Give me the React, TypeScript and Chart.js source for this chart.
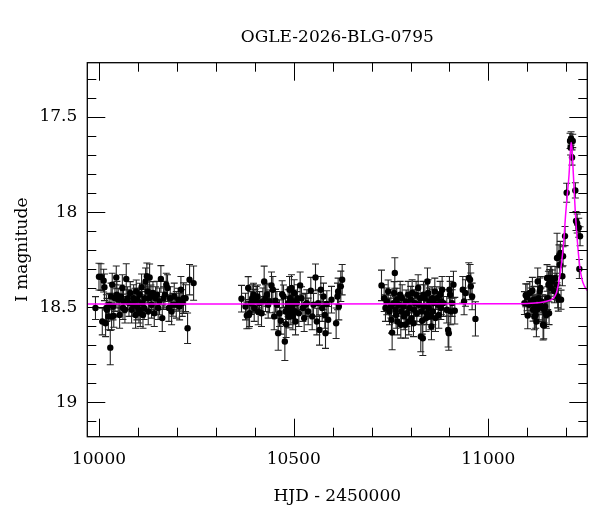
import { useEffect, useRef } from 'react'
import { Chart, registerables } from 'chart.js'

Chart.register(...registerables)

const TITLE = 'OGLE-2026-BLG-0795'
const X_LABEL = 'HJD - 2450000'
const Y_LABEL = 'I magnitude'
const X_TICKS = [10000, 10500, 11000]
const X_MINOR = [10000, 10100, 10200, 10300, 10400, 10500, 10600, 10700, 10800, 10900, 11000, 11100, 11200]
const Y_TICKS = [17.5, 18, 18.5, 19]
const Y_MINOR = [17.3, 17.4, 17.5, 17.6, 17.7, 17.8, 17.9, 18, 18.1, 18.2, 18.3, 18.4, 18.5, 18.6, 18.7, 18.8, 18.9, 19, 19.1]

// [HJD - 2450000, I mag, error]
const SEASON_1 = [
  [9991, 18.504, 0.06], [10000, 18.339, 0.07], [10005, 18.341, 0.07], [10008.5, 18.575, 0.07],
  [10012, 18.36, 0.06], [10014, 18.395, 0.07], [10017, 18.584, 0.07], [10019, 18.504, 0.07],
  [10020.5, 18.513, 0.06], [10024, 18.548, 0.07], [10026, 18.487, 0.06], [10029, 18.712, 0.09],
  [10031, 18.443, 0.07], [10032.4, 18.548, 0.07], [10034, 18.381, 0.06], [10036, 18.496, 0.07],
  [10038, 18.545, 0.06], [10041, 18.452, 0.07], [10044.4, 18.343, 0.06], [10046, 18.434, 0.07],
  [10049.5, 18.46, 0.06], [10053, 18.54, 0.07], [10056.4, 18.443, 0.06], [10060, 18.399, 0.07],
  [10061.5, 18.504, 0.06], [10063, 18.469, 0.06], [10066.6, 18.513, 0.07], [10070, 18.351, 0.08],
  [10073.5, 18.452, 0.06], [10077, 18.478, 0.07], [10080.3, 18.425, 0.06], [10083.8, 18.513, 0.07],
  [10087, 18.487, 0.06], [10089, 18.452, 0.07], [10092, 18.46, 0.06], [10094, 18.54, 0.07],
  [10095.7, 18.417, 0.06], [10097.5, 18.496, 0.07], [10099, 18.46, 0.06], [10102.6, 18.513, 0.07],
  [10104.4, 18.434, 0.06], [10106, 18.531, 0.07], [10109.4, 18.395, 0.07], [10111, 18.478, 0.06],
  [10113, 18.54, 0.07], [10116, 18.504, 0.06], [10118, 18.452, 0.07], [10119.7, 18.364, 0.07],
  [10123, 18.337, 0.07], [10125, 18.417, 0.06], [10126.5, 18.522, 0.07], [10128, 18.452, 0.06],
  [10130, 18.343, 0.07], [10133.4, 18.443, 0.06], [10135, 18.487, 0.07], [10138.6, 18.425, 0.06],
  [10142, 18.531, 0.07], [10145.4, 18.452, 0.06], [10148.8, 18.434, 0.07], [10152, 18.504, 0.06],
  [10155.6, 18.469, 0.07], [10159, 18.351, 0.07], [10162.5, 18.557, 0.07], [10166, 18.452, 0.06],
  [10169.3, 18.434, 0.07], [10172.8, 18.381, 0.06], [10176, 18.399, 0.07], [10179.6, 18.504, 0.07],
  [10183, 18.452, 0.06], [10186.5, 18.522, 0.07], [10190, 18.487, 0.06], [10193.3, 18.443, 0.07],
  [10198.4, 18.487, 0.07], [10203.5, 18.46, 0.06], [10207, 18.496, 0.07], [10210.4, 18.408, 0.07],
  [10213.8, 18.478, 0.07], [10217, 18.452, 0.08], [10222.4, 18.452, 0.07], [10227.5, 18.61, 0.08],
  [10232.6, 18.355, 0.08], [10243, 18.373, 0.09],
]

const SEASON_2 = [
  [10366, 18.455, 0.07], [10376.3, 18.496, 0.07], [10379.7, 18.543, 0.07], [10383.2, 18.399, 0.06],
  [10385, 18.54, 0.07], [10386.6, 18.531, 0.07], [10390, 18.478, 0.06], [10393.4, 18.452, 0.07],
  [10396.9, 18.434, 0.06], [10398.6, 18.504, 0.07], [10400.3, 18.466, 0.06], [10403.7, 18.46, 0.07],
  [10407.1, 18.443, 0.06], [10408.8, 18.522, 0.07], [10412.3, 18.478, 0.06], [10417.4, 18.531, 0.07],
  [10420.8, 18.469, 0.07], [10424.2, 18.364, 0.08], [10427.7, 18.452, 0.07], [10431.1, 18.434, 0.06],
  [10434.5, 18.487, 0.07], [10438, 18.469, 0.06], [10443, 18.385, 0.07], [10446.5, 18.408, 0.07],
  [10449.9, 18.548, 0.07], [10453.3, 18.466, 0.06], [10456.8, 18.487, 0.07], [10460.2, 18.636, 0.09],
  [10463.6, 18.531, 0.07], [10467, 18.571, 0.07], [10470.4, 18.431, 0.07], [10473.9, 18.443, 0.06],
  [10477.3, 18.68, 0.1], [10479, 18.522, 0.07], [10480.7, 18.589, 0.07], [10484.1, 18.504, 0.06],
  [10485.8, 18.478, 0.07], [10487.6, 18.548, 0.06], [10489.3, 18.408, 0.07], [10491, 18.452, 0.06],
  [10492.7, 18.522, 0.07], [10494.4, 18.399, 0.07], [10496.1, 18.496, 0.06], [10497.8, 18.548, 0.07],
  [10499.5, 18.469, 0.06], [10501.2, 18.425, 0.07], [10503, 18.522, 0.06], [10504.7, 18.575, 0.07],
  [10508.1, 18.478, 0.06], [10509.8, 18.452, 0.07], [10513.2, 18.531, 0.07], [10516.6, 18.385, 0.07],
  [10520.1, 18.452, 0.06], [10523.5, 18.504, 0.07], [10526.9, 18.557, 0.07], [10530.3, 18.487, 0.06],
  [10533.8, 18.478, 0.07], [10537.2, 18.522, 0.07], [10544, 18.413, 0.07], [10547.5, 18.548, 0.07],
  [10550.9, 18.487, 0.06], [10556, 18.343, 0.07], [10559.4, 18.575, 0.07], [10562.8, 18.478, 0.07],
  [10566.3, 18.619, 0.08], [10569.7, 18.408, 0.07], [10573.1, 18.504, 0.07], [10576.5, 18.443, 0.07],
  [10580, 18.54, 0.07], [10581.7, 18.636, 0.08], [10585.1, 18.483, 0.07], [10588.5, 18.566, 0.07],
  [10597.1, 18.46, 0.07], [10609, 18.584, 0.08], [10612.5, 18.443, 0.07], [10614.2, 18.417, 0.07],
  [10615.9, 18.496, 0.07], [10621, 18.39, 0.08], [10624.5, 18.355, 0.08],
]

const SEASON_3 = [
  [10725.5, 18.385, 0.08], [10732.3, 18.452, 0.07], [10735.7, 18.504, 0.07], [10739.1, 18.469, 0.07],
  [10742.6, 18.417, 0.06], [10746, 18.522, 0.07], [10749.4, 18.496, 0.06], [10751.1, 18.566, 0.07],
  [10752.8, 18.633, 0.09], [10756.3, 18.478, 0.07], [10758, 18.425, 0.06], [10759.7, 18.32, 0.08],
  [10761.4, 18.513, 0.07], [10763.1, 18.54, 0.07], [10764.8, 18.46, 0.06], [10766.5, 18.575, 0.07],
  [10770, 18.487, 0.06], [10773.4, 18.434, 0.07], [10775.1, 18.592, 0.07], [10776.8, 18.522, 0.06],
  [10778.5, 18.452, 0.07], [10781.9, 18.496, 0.06], [10783.6, 18.548, 0.07], [10787.1, 18.592, 0.07],
  [10788.8, 18.469, 0.06], [10790.5, 18.531, 0.07], [10793.9, 18.434, 0.07], [10795.6, 18.575, 0.07],
  [10797.3, 18.504, 0.06], [10800.7, 18.46, 0.07], [10802.5, 18.557, 0.07], [10804.2, 18.425, 0.07],
  [10807.6, 18.584, 0.07], [10809.3, 18.513, 0.06], [10811, 18.478, 0.07], [10814.4, 18.434, 0.07],
  [10816.2, 18.531, 0.06], [10819.6, 18.399, 0.07], [10821.3, 18.487, 0.06], [10824.7, 18.452, 0.07],
  [10826.4, 18.654, 0.08], [10828.1, 18.522, 0.07], [10829.9, 18.571, 0.07], [10831.6, 18.663, 0.09],
  [10833.3, 18.434, 0.07], [10835, 18.496, 0.06], [10836.7, 18.452, 0.07], [10840.1, 18.557, 0.07],
  [10841.8, 18.531, 0.06], [10843.5, 18.364, 0.07], [10845.2, 18.425, 0.07], [10847, 18.504, 0.06],
  [10848.7, 18.469, 0.07], [10852.1, 18.548, 0.07], [10853.8, 18.601, 0.07], [10855.5, 18.452, 0.06],
  [10857.2, 18.522, 0.07], [10858.9, 18.478, 0.07], [10862.4, 18.417, 0.07], [10864.1, 18.557, 0.07],
  [10867.5, 18.452, 0.06], [10870.9, 18.487, 0.07], [10872.6, 18.54, 0.07], [10876, 18.434, 0.07],
  [10877.8, 18.504, 0.06], [10879.5, 18.469, 0.07], [10881.2, 18.408, 0.07], [10884.6, 18.478, 0.07],
  [10893.2, 18.513, 0.07], [10896.6, 18.619, 0.09], [10898.3, 18.636, 0.09], [10900, 18.408, 0.07],
  [10901.7, 18.434, 0.07], [10903.4, 18.522, 0.07], [10906.8, 18.478, 0.07], [10910.3, 18.381, 0.07],
  [10913.7, 18.518, 0.07], [10934.2, 18.408, 0.07], [10937.6, 18.469, 0.07], [10941.1, 18.425, 0.07],
  [10949.6, 18.346, 0.08], [10953, 18.355, 0.08], [10954.8, 18.39, 0.07], [10958.2, 18.443, 0.07],
  [10966.7, 18.561, 0.09],
]

const SEASON_4 = [
  [11092.5, 18.478, 0.06], [11095.9, 18.437, 0.06], [11099.3, 18.448, 0.07], [11101, 18.543, 0.07],
  [11104.4, 18.487, 0.06], [11106.1, 18.425, 0.06], [11109.6, 18.469, 0.07], [11113, 18.413, 0.07],
  [11114.7, 18.513, 0.06], [11116.4, 18.46, 0.07], [11118.1, 18.548, 0.07], [11119.8, 18.496, 0.06],
  [11121.5, 18.54, 0.07], [11123.3, 18.575, 0.08], [11125, 18.513, 0.07], [11126.7, 18.364, 0.07],
  [11128.4, 18.452, 0.06], [11130.1, 18.496, 0.07], [11131.8, 18.416, 0.07], [11133.5, 18.399, 0.06],
  [11135.2, 18.469, 0.07], [11138.7, 18.504, 0.07], [11140.4, 18.592, 0.08], [11142.1, 18.596, 0.07],
  [11143.8, 18.513, 0.07], [11145.5, 18.496, 0.06], [11147.2, 18.531, 0.07], [11148.9, 18.54, 0.07],
  [11150.6, 18.346, 0.07], [11152.3, 18.452, 0.06], [11154.1, 18.381, 0.07], [11155.8, 18.531, 0.06],
  [11157.5, 18.372, 0.07], [11159.2, 18.346, 0.06], [11160.9, 18.399, 0.06], [11162.6, 18.355, 0.07],
  [11164.3, 18.364, 0.06], [11169.5, 18.416, 0.06], [11171.2, 18.346, 0.06], [11174.6, 18.381, 0.06],
  [11176.3, 18.241, 0.13], [11178, 18.443, 0.06], [11179.7, 18.46, 0.06], [11181.4, 18.232, 0.06],
  [11183.1, 18.276, 0.06], [11184.9, 18.214, 0.06], [11186.6, 18.46, 0.05], [11190, 18.337, 0.05],
  [11191.7, 18.232, 0.05], [11196.8, 18.126, 0.05], [11201, 17.898, 0.05], [11209.7, 17.626, 0.04],
  [11211, 17.66, 0.04], [11212.3, 17.613, 0.035], [11214.8, 17.713, 0.04], [11216.6, 17.626, 0.035],
  [11223.3, 17.886, 0.04], [11225, 18.047, 0.05], [11228, 18.06, 0.05], [11232, 18.082, 0.05],
  [11235.4, 18.127, 0.05], [11233.6, 18.299, 0.05],
]

// model light curve: [HJD - 2450000, I mag]
const MODEL = [
  [9970, 18.483], [11080, 18.482], [11120, 18.478], [11145, 18.471], [11160, 18.462],
  [11167, 18.452], [11175, 18.422], [11182, 18.355], [11187, 18.28], [11192.5, 18.179],
  [11198.7, 18.003], [11203, 17.9], [11207.2, 17.801], [11210, 17.7], [11212.3, 17.634],
  [11214.5, 17.66], [11218.2, 17.801], [11223.3, 18.003], [11229.5, 18.179], [11235, 18.29],
  [11240.5, 18.355], [11247, 18.39], [11254, 18.412],
]

const FONT = '"DejaVu Serif", serif'
const FONT_SIZE = 17

const toPoints = (rows: number[][]) => rows.map(([x, y, err]) => ({ x, y, err }))

// error bars under the dots, box with inward ticks on top of everything
const framePlugin = {
  id: 'frame',
  beforeDatasetsDraw(chart: any) {
    const { ctx, chartArea, scales } = chart
    ctx.save()
    ctx.beginPath()
    ctx.rect(chartArea.left, chartArea.top, chartArea.right - chartArea.left, chartArea.bottom - chartArea.top)
    ctx.clip()
    ctx.strokeStyle = '#222'
    ctx.lineWidth = 1.1
    chart.data.datasets.forEach((ds: any) => {
      if (!ds.errorBars) return
      ds.data.forEach((p: any) => {
        const px = scales.x.getPixelForValue(p.x)
        const y1 = scales.y.getPixelForValue(p.y - p.err)
        const y2 = scales.y.getPixelForValue(p.y + p.err)
        ctx.beginPath()
        ctx.moveTo(px, y1); ctx.lineTo(px, y2)
        ctx.moveTo(px - 3.5, y1); ctx.lineTo(px + 3.5, y1)
        ctx.moveTo(px - 3.5, y2); ctx.lineTo(px + 3.5, y2)
        ctx.stroke()
      })
    })
    ctx.restore()
  },
  afterDraw(chart: any) {
    const { ctx, chartArea: a, scales } = chart
    ctx.save()
    ctx.strokeStyle = '#000'
    ctx.lineWidth = 1.3
    ctx.strokeRect(a.left, a.top, a.right - a.left, a.bottom - a.top)
    ctx.lineWidth = 1
    ctx.beginPath()
    X_MINOR.forEach(v => {
      const len = X_TICKS.includes(v) ? 18 : 9
      const px = Math.round(scales.x.getPixelForValue(v)) + 0.5
      ctx.moveTo(px, a.bottom); ctx.lineTo(px, a.bottom - len)
      ctx.moveTo(px, a.top); ctx.lineTo(px, a.top + len)
    })
    Y_MINOR.forEach(v => {
      const len = Y_TICKS.includes(v) ? 18 : 9
      const py = Math.round(scales.y.getPixelForValue(v)) + 0.5
      ctx.moveTo(a.left, py); ctx.lineTo(a.left + len, py)
      ctx.moveTo(a.right, py); ctx.lineTo(a.right - len, py)
    })
    ctx.stroke()
    ctx.restore()
  },
}

export default function App() {
  const canvasRef = useRef<HTMLCanvasElement>(null)
  const chartRef = useRef<Chart | null>(null)

  useEffect(() => {
    if (!canvasRef.current) return
    if (chartRef.current) chartRef.current.destroy()

    const font = { family: FONT, size: FONT_SIZE, weight: 'normal' as const }
    const seasons = [SEASON_1, SEASON_2, SEASON_3, SEASON_4]

    chartRef.current = new Chart(canvasRef.current, {
      type: 'scatter',
      data: {
        datasets: [
          {
            type: 'line',
            data: MODEL.map(([x, y]) => ({ x, y })),
            borderColor: '#ff00ff',
            borderWidth: 1.5,
            pointRadius: 0,
            cubicInterpolationMode: 'monotone',
            fill: false,
            order: 0,
          } as any,
          ...seasons.map(s => ({
            data: toPoints(s),
            errorBars: true,
            backgroundColor: '#000',
            borderWidth: 0,
            pointRadius: 3.2,
            order: 1,
          })),
        ],
      },
      options: {
        animation: false,
        responsive: true,
        maintainAspectRatio: false,
        layout: { padding: { left: 0, right: 12.7, top: 0, bottom: 0 } },
        scales: {
          x: {
            type: 'linear',
            min: 9970,
            max: 11254,
            afterBuildTicks: (s: any) => { s.ticks = X_TICKS.map(value => ({ value })) },
            afterFit: (s: any) => { s.height = 75.3 },
            ticks: { color: '#000', font, padding: 13, maxRotation: 0, callback: (v: any) => String(v) },
            grid: { display: false, drawTicks: false },
            border: { display: false },
            title: { display: true, text: X_LABEL, color: '#000', font, padding: { top: 0, bottom: 5 } },
          },
          y: {
            type: 'linear',
            reverse: true,
            min: 17.215,
            max: 19.18,
            afterBuildTicks: (s: any) => { s.ticks = Y_TICKS.map(value => ({ value })) },
            afterFit: (s: any) => { s.width = 87.3 },
            ticks: { color: '#000', font, padding: 10, callback: (v: any) => String(v) },
            grid: { display: false, drawTicks: false },
            border: { display: false },
            title: { display: true, text: Y_LABEL, color: '#000', font, padding: { top: 12, bottom: 0 } },
          },
        },
        plugins: {
          legend: { display: false },
          tooltip: { enabled: false },
          title: {
            display: true,
            text: TITLE,
            fullSize: false,
            color: '#000',
            font,
            padding: { top: 27, bottom: 15.3 },
          },
        },
      },
      plugins: [framePlugin],
    })

    return () => { chartRef.current?.destroy() }
  }, [])

  return (
    <div style={{ position: 'absolute', left: 0, top: 0, width: '600px', height: '512px', background: '#fff' }}>
      <canvas ref={canvasRef} />
    </div>
  )
}
